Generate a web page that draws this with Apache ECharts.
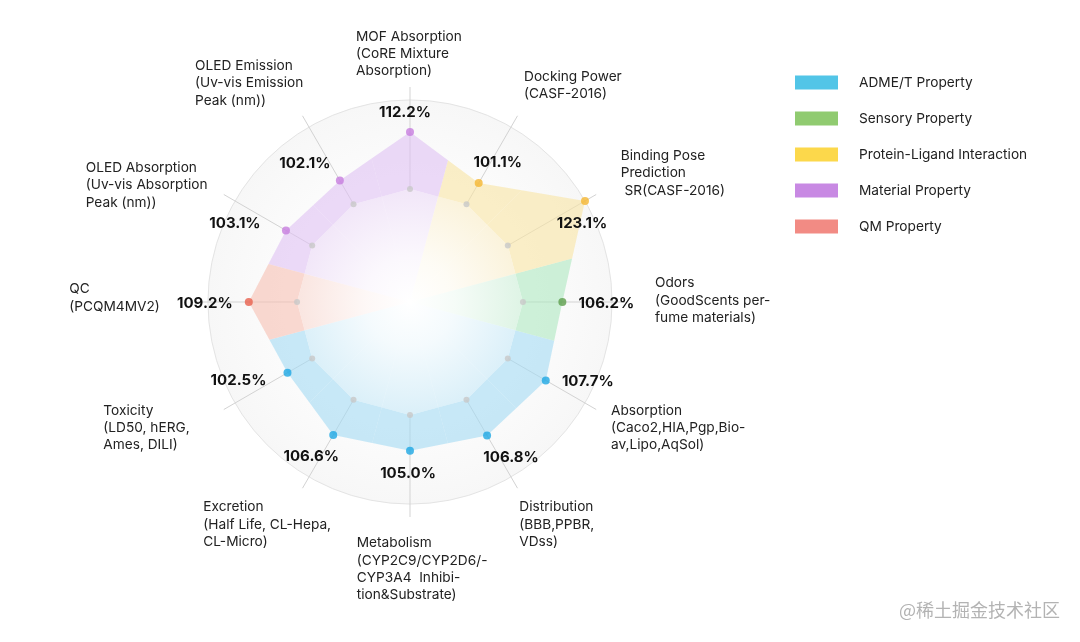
<!DOCTYPE html>
<html>
<head>
<meta charset="utf-8">
<script src="https://cdn.jsdelivr.net/npm/echarts@6/dist/echarts.min.js"></script>
<style>
html,body{margin:0;padding:0;background:#fff;}
#chart{width:1080px;height:642px;}
</style>
</head>
<body>
<div id="chart"></div>
<script>
// ---- data ----
const categories = [
  'MOF Absorption\n(CoRE Mixture\nAbsorption)',
  'Docking Power\n(CASF-2016)',
  'Binding Pose\nPrediction\n SR(CASF-2016)',
  'Odors\n(GoodScents per-\nfume materials)',
  'Absorption\n(Caco2,HIA,Pgp,Bio-\nav,Lipo,AqSol)',
  'Distribution\n(BBB,PPBR,\nVDss)',
  'Metabolism\n(CYP2C9/CYP2D6/-\nCYP3A4  Inhibi-\ntion&Substrate)',
  'Excretion\n(Half Life, CL-Hepa,\nCL-Micro)',
  'Toxicity\n(LD50, hERG,\nAmes, DILI)',
  'QC\n(PCQM4MV2)',
  'OLED Absorption\n(Uv-vis Absorption\nPeak (nm))',
  'OLED Emission\n(Uv-vis Emission\nPeak (nm))'
];
const values = [112.2, 101.1, 123.1, 106.2, 107.7, 106.8, 105.0, 106.6, 102.5, 109.2, 103.1, 102.1];
const baseline = [92.8, 92.8, 92.8, 92.8, 92.8, 92.8, 92.8, 92.8, 92.8, 92.8, 92.8, 92.8];
const groups = ['ADME/T Property', 'Sensory Property', 'Protein-Ligand Interaction', 'Material Property', 'QM Property'];
const groupOf = [3, 2, 2, 1, 0, 0, 0, 0, 0, 4, 3, 3];
const outerValue = 123.1;

// ---- styles ----
const legendColors = ['#52c5e7', '#90cb70', '#fcd84b', '#c889e3', '#f28b84'];
const bandColors = ['rgba(163,219,244,0.6)', 'rgba(173,231,191,0.6)', 'rgba(249,228,164,0.6)', 'rgba(224,194,243,0.6)', 'rgba(246,191,178,0.6)'];
const innerTint = [[196,230,245], [202,237,213], [248,235,197], [233,215,244], [246,213,205]];
const dotColors = ['#1ea7e4', '#5e9f4c', '#f5b731', '#c77ddf', '#e8604e'];
const R_MIN = 54.4, R_MAX = 127.5;
const valueLabelOffset = [[-5,-20],[19,-21],[-3,23],[44,1],[42,1],[24,22],[-2,23],[-22,22],[-49,8],[-44,1],[-51,-7],[-35,-17]];
const nameOffset = [[-54,-50.3],[6.5,-39.1],[24.5,-38.5],[30,-18.7],[14.8,1.2],[1.8,19.1],[-53.3,26.3],[-99.2,19.1],[-120.5,1.2],[-125.7,-12.7],[-138.1,-26.5],[-107.5,-49.8]];
const FONT = 'Inter, "Noto Sans", sans-serif';

function xy(p){ return [p[0], p[1]]; }
function cross(a, b){ return a[0]*b[1] - a[1]*b[0]; }
function rayHit(C, D, A, B){
  const r = [D[0]-C[0], D[1]-C[1]];
  const q = [B[0]-A[0], B[1]-A[1]];
  const w = [A[0]-C[0], A[1]-C[1]];
  const s = cross(w, q) / cross(r, q);
  return [C[0] + s*r[0], C[1] + s*r[1]];
}
function ang(i){ return ((i*30) % 360 + 360) % 360; }
function angL(i){ return (ang(i) + 345) % 360; }
function angR(i){ return ang(i) + 15; }

const chart = echarts.init(document.getElementById('chart'));

const series = [];
// background disc
series.push({
  type: 'custom', coordinateSystem: 'polar', z: 1, silent: true,
  data: [[outerValue, 0]],
  renderItem: function(params, api){
    const C = api.coord([R_MIN, 0]);
    const P = api.coord([api.value(0), 0]);
    const r = Math.hypot(P[0]-C[0], P[1]-C[1]);
    return {
      type: 'circle', shape: {cx: C[0], cy: C[1], r: r},
      style: {
        fill: {type: 'radial', x: 0.5, y: 0.5, r: 0.5, colorStops: [
          {offset: 0, color: '#ffffff'}, {offset: 0.55, color: '#fdfdfd'}, {offset: 1, color: '#f7f7f7'}]},
        stroke: '#e4e4e4', lineWidth: 1
      }
    };
  }
});
// colored wedges per group
groups.forEach(function(g, gi){
  const data = [];
  values.forEach(function(v, i){ if (groupOf[i] === gi) data.push([v, i*30, i]); });
  series.push({
    name: g, type: 'custom', coordinateSystem: 'polar', z: 3, silent: true,
    itemStyle: {color: legendColors[gi]},
    data: data,
    renderItem: function(params, api){
      const i = api.value(2);
      const prev = (i + 11) % 12, next = (i + 1) % 12;
      const C = xy(api.coord([R_MIN, 0]));
      const P = xy(api.coord([values[i], ang(i)]));
      const Pp = xy(api.coord([values[prev], ang(prev)]));
      const Pn = xy(api.coord([values[next], ang(next)]));
      const B1 = rayHit(C, xy(api.coord([R_MAX, angL(i)])), Pp, P);
      const B2 = rayHit(C, xy(api.coord([R_MAX, angR(i)])), P, Pn);
      return {type: 'polygon', shape: {points: [C, B1, P, B2]}, style: {fill: bandColors[gi]}};
    }
  });
});
// inner white cover over baseline polygon
series.push({
  type: 'custom', coordinateSystem: 'polar', z: 4, silent: true,
  data: [[baseline[0], 0]],
  renderItem: function(params, api){
    const pts = baseline.map(function(b, i){ return xy(api.coord([b, ang(i)])); });
    return {type: 'polygon', shape: {points: pts}, style: {fill: '#ffffff'}};
  }
});
// inner tinted wedges (fade to white at centre)
series.push({
  type: 'custom', coordinateSystem: 'polar', z: 5, silent: true,
  data: baseline.map(function(b, i){ return [b, ang(i), i]; }),
  renderItem: function(params, api){
    const i = api.value(2);
    const prev = (i + 11) % 12, next = (i + 1) % 12;
    const C = xy(api.coord([R_MIN, 0]));
    const P = xy(api.coord([baseline[i], ang(i)]));
    const Pp = xy(api.coord([baseline[prev], ang(prev)]));
    const Pn = xy(api.coord([baseline[next], ang(next)]));
    const B1 = rayHit(C, xy(api.coord([R_MAX, angL(i)])), Pp, P);
    const B2 = rayHit(C, xy(api.coord([R_MAX, angR(i)])), P, Pn);
    const r = Math.hypot(P[0]-C[0], P[1]-C[1]);
    const t = innerTint[groupOf[i]];
    const rgba = function(a){ return 'rgba(' + t[0] + ',' + t[1] + ',' + t[2] + ',' + a + ')'; };
    return {
      type: 'polygon', shape: {points: [C, B1, P, B2]},
      style: {fill: new echarts.graphic.RadialGradient(C[0], C[1], r, [
        {offset: 0, color: rgba(0)}, {offset: 0.4, color: rgba(0.18)}, {offset: 1, color: rgba(0.62)}], true)}
    };
  }
});
// baseline dots
series.push({
  type: 'scatter', coordinateSystem: 'polar', z: 6, silent: true,
  symbolSize: 6, itemStyle: {color: '#c8c8c8'},
  data: baseline.map(function(b, i){ return [b, ang(i)]; })
});
// value dots
series.push({
  type: 'scatter', coordinateSystem: 'polar', z: 6, silent: true,
  symbolSize: 8,
  data: values.map(function(v, i){ return {value: [v, ang(i)], itemStyle: {color: dotColors[groupOf[i]]}}; })
});
// value labels
series.push({
  type: 'custom', coordinateSystem: 'polar', z: 7, silent: true,
  data: values.map(function(v, i){ return [v, ang(i), i]; }),
  renderItem: function(params, api){
    const i = api.value(2);
    const P = api.coord([api.value(0), api.value(1)]);
    return {
      type: 'text', x: P[0] + valueLabelOffset[i][0], y: P[1] + valueLabelOffset[i][1],
      style: {text: values[i].toFixed(1) + '%', fill: '#111', font: 'bold 15px ' + FONT,
              align: 'center', verticalAlign: 'middle'}
    };
  }
});
// axis names
series.push({
  type: 'custom', coordinateSystem: 'polar', z: 7, silent: true,
  data: categories.map(function(c, i){ return [R_MAX, ang(i), i]; }),
  renderItem: function(params, api){
    const i = api.value(2);
    const P = api.coord([api.value(0), api.value(1)]);
    return {
      type: 'text', x: P[0] + nameOffset[i][0], y: P[1] + nameOffset[i][1] - 8.65,
      style: {text: categories[i], fill: '#222', font: '13.7px ' + FONT, lineHeight: 17.3,
              align: 'left', verticalAlign: 'top'}
    };
  }
});

chart.setOption({
  backgroundColor: '#ffffff',
  animation: false,
  polar: {center: [410, 302], radius: 215},
  angleAxis: {
    type: 'value', min: 0, max: 360, interval: 30, startAngle: 90, clockwise: true, z: 2,
    axisLine: {show: false}, axisTick: {show: false}, axisLabel: {show: false},
    splitLine: {show: true, lineStyle: {color: '#d3d3d3', width: 1}}
  },
  radiusAxis: {
    type: 'value', min: R_MIN, max: R_MAX,
    axisLine: {show: false}, axisTick: {show: false}, axisLabel: {show: false}, splitLine: {show: false}
  },
  legend: {
    orient: 'vertical', left: 795, top: 75.5, padding: 0, itemWidth: 43, itemHeight: 14, itemGap: 22,
    icon: 'rect', selectedMode: false,
    data: groups.map(function(g, gi){ return {name: g, itemStyle: {color: legendColors[gi]}}; }),
    textStyle: {fontSize: 13.7, fontFamily: FONT, color: '#222', padding: [0, 0, 0, 16]}
  },
  graphic: [{
    type: 'text', right: 20, top: 601,
    style: {text: '@稀土掘金技术社区', font: '18px "Noto Sans CJK SC"', fill: '#b3b3b3'}
  }],
  series: series
});
</script>
</body>
</html>
